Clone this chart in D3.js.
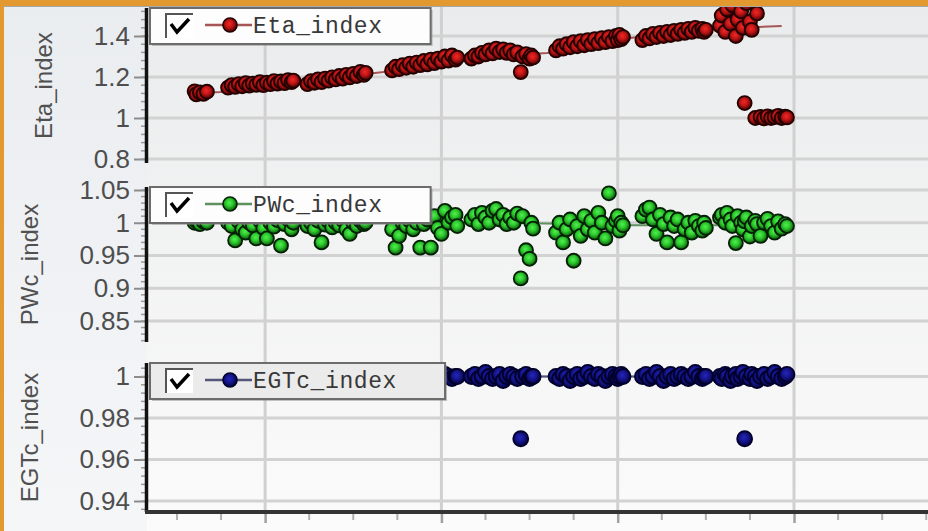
<!DOCTYPE html>
<html>
<head>
<meta charset="utf-8">
<script src="https://cdn.jsdelivr.net/npm/d3@7"></script>
<style>
  html, body { margin: 0; padding: 0; background: #eef0f2; }
  svg { display: block; }
</style>
</head>
<body>
<div id="chart"></div>
<script>
// sample positions, shared by the three panels (one row per cluster)
const cycle = [
  60, 61, 63, 65, 67,
  79, 81, 83, 85, 87, 89, 91, 93, 95, 97, 99, 101, 103, 105, 107, 109, 111, 113, 115, 116,
  124, 126, 128, 130, 132, 134, 136, 138, 140, 142, 144, 146, 148, 150, 152, 154, 156, 157,
  172, 174, 176, 178, 180, 182, 184, 186, 188, 190, 192, 194, 196, 198, 200, 202, 204, 206, 208, 209,
  217, 219, 221, 223, 225, 227, 229, 231, 233, 235, 237, 239, 241, 243, 245, 246, 248, 250, 251, 252,
  265, 267, 269, 271, 273, 275, 277, 279, 281, 283, 285, 287, 289, 291, 293, 295, 297, 299, 300, 301, 302, 303,
  314, 316, 318, 320, 322, 324, 326, 328, 330, 332, 334, 336, 338, 340, 342, 344, 346, 348, 349, 350,
  358, 359, 361, 362, 364, 365, 367, 368, 370, 371, 372, 373, 375, 376, 378, 379, 381, 383, 385, 387, 389, 391, 393, 395, 396
];
const etaIndex = [
  1.13, 1.115, 1.125, 1.118, 1.128,
  1.148, 1.160, 1.152, 1.165, 1.155, 1.170, 1.158, 1.168, 1.162, 1.175, 1.160, 1.172, 1.165, 1.180, 1.168, 1.178, 1.170, 1.185, 1.175, 1.182,
  1.165, 1.18, 1.172, 1.188, 1.175, 1.192, 1.182, 1.198, 1.188, 1.205, 1.192, 1.21, 1.198, 1.215, 1.205, 1.225, 1.21, 1.22,
  1.232, 1.25, 1.238, 1.258, 1.245, 1.265, 1.25, 1.27, 1.258, 1.278, 1.262, 1.285, 1.268, 1.29, 1.275, 1.3, 1.28, 1.305, 1.285, 1.295,
  1.29, 1.305, 1.3, 1.318, 1.31, 1.33, 1.315, 1.338, 1.322, 1.335, 1.318, 1.33, 1.31, 1.32, 1.224, 1.3, 1.312, 1.29, 1.305, 1.295,
  1.33, 1.35, 1.338, 1.36, 1.345, 1.37, 1.35, 1.375, 1.355, 1.38, 1.36, 1.385, 1.365, 1.39, 1.37, 1.395, 1.375, 1.40, 1.38, 1.405, 1.385, 1.395,
  1.38, 1.40, 1.388, 1.41, 1.395, 1.415, 1.40, 1.42, 1.405, 1.425, 1.41, 1.43, 1.415, 1.435, 1.42, 1.44, 1.425, 1.435, 1.42, 1.43,
  1.45, 1.50, 1.42, 1.53, 1.46, 1.55, 1.40, 1.48, 1.52, 1.44, 1.073, 1.56, 1.47, 1.43, 1.0, 1.51, 1.005, 0.998, 1.008, 1.0, 1.004, 1.01, 1.0, 1.006, 1.003
];
const pwcIndex = [
  1.0, 1.003, 0.998, 1.002, 1.0,
  1.0, 0.995, 0.973, 1.002, 0.99, 0.985, 1.0, 0.996, 0.976, 1.003, 0.992, 0.976, 1.0, 0.994, 1.004, 0.965, 0.998, 1.005, 0.99, 1.0,
  0.995, 1.0, 0.99, 1.003, 0.97, 0.997, 1.002, 0.993, 1.0, 0.996, 1.004, 0.99, 0.983, 1.0, 0.995, 1.003, 0.998, 1.0,
  0.99, 0.962, 0.98, 1.0, 0.995, 1.003, 0.99, 1.0, 0.962, 0.998, 1.005, 0.962, 1.01, 0.992, 0.983, 1.018, 1.0, 1.008, 1.012, 0.995,
  1.005, 1.012, 0.998, 1.015, 1.008, 1.0, 1.018, 1.021, 1.005, 1.012, 0.998, 1.008, 1.0, 1.014, 0.915, 1.01, 0.958, 0.945, 1.0, 0.991,
  0.985, 1.0, 0.97, 0.99, 1.005, 0.942, 0.995, 0.98, 1.01, 0.99, 1.003, 0.985, 1.015, 1.0, 0.976, 1.045, 0.995, 1.003, 1.01, 0.988, 1.0, 0.996,
  1.01, 1.02, 1.023, 1.005, 0.983, 1.012, 0.998, 0.97, 1.008, 0.995, 1.005, 0.97, 0.99, 1.0, 0.985, 1.003, 0.995, 0.988, 1.0, 0.992,
  1.008, 1.012, 1.0, 1.015, 1.005, 0.995, 0.969, 1.01, 1.0, 0.99, 1.002, 1.008, 0.979, 0.995, 1.003, 0.998, 0.98, 1.0, 1.006, 0.995, 0.985, 1.002, 0.991, 0.998, 0.995
];
const egtcIndex = [
  1, 1, 1, 1, 1,
  1, 1.001, 1, 0.999, 1, 1, 1.001, 1, 0.999, 1, 1, 1.001, 1, 1, 0.999, 1, 1.001, 1, 1, 1,
  1, 0.999, 1, 1.001, 1, 1, 0.999, 1, 1.001, 1, 1, 0.999, 1, 1.001, 1, 1, 0.999, 1,
  1, 1.001, 1, 0.999, 1, 1.001, 1, 1, 0.998, 1, 1.001, 1, 0.999, 1, 1, 1.001, 1, 0.999, 1, 1,
  1, 1.001, 0.999, 1, 1.002, 1, 0.999, 1, 1.001, 0.998, 1, 1.001, 1, 0.999, 0.97, 1, 1.001, 0.999, 1, 1,
  1, 0.999, 1.001, 1, 0.998, 1, 1.001, 0.999, 1, 1.002, 1, 0.999, 1.001, 1, 0.998, 1, 1.001, 1, 0.999, 1, 1.001, 1,
  1, 1.001, 0.999, 1, 1.002, 1, 0.998, 1, 1.001, 0.999, 1, 1.001, 1, 0.999, 1, 1.002, 1, 0.999, 1, 1,
  1, 0.999, 1.001, 1, 0.998, 1, 1.001, 0.999, 1, 1.002, 0.97, 1, 0.999, 1.001, 1, 0.998, 1, 1.001, 0.999, 1, 1.002, 1, 0.999, 1, 1.001
];

// smoothed trend drawn through each panel
const trendCycle = [63, 75, 121, 167, 213, 260, 307, 353, 393];
const etaTrend = [1.122, 1.127, 1.176, 1.224, 1.293, 1.317, 1.39, 1.434, 1.449];
const pwcTrend = [1.0, 1.0, 1.0, 1.0, 1.0, 0.999, 0.996, 0.996, 0.996];
const egtcTrend = [1, 1, 1, 1, 1, 1, 1, 1, 1];

const etaTicks = [0.8, 1, 1.2, 1.4];
const pwcTicks = [0.85, 0.9, 0.95, 1, 1.05];
const egtcTicks = [0.94, 0.96, 0.98, 1];
const xMajorTicks = [100, 200, 300, 400];
const xMinorTicks = [50, 75, 125, 150, 175, 225, 250, 275, 325, 350, 375, 425, 450, 475];

const W = 928, H = 531;
const plotLeft = 147, plotRight = 928, plotTop = 6, xAxisY = 512;

const panels = [
  { id: "eta", name: "Eta_index", values: etaIndex, trend: etaTrend, ticks: etaTicks, minorStep: 0.04,
    domain: [0.8, 1.4], range: [159, 36], axisTop: 8, axisBottom: 163,
    stops: ["#f02828", "#c41616", "#480202"], stroke: "#220000", r: 7, line: "#a55656", legendFill: "#fdfdfd" },
  { id: "pwc", name: "PWc_index", values: pwcIndex, trend: pwcTrend, ticks: pwcTicks, minorStep: 0.01,
    domain: [0.85, 1.05], range: [321, 190], axisTop: 187, axisBottom: 342,
    stops: ["#52ee52", "#2cca2c", "#0c520c"], stroke: "#042004", r: 7, line: "#5f915f", legendFill: "#fdfdfd" },
  { id: "egtc", name: "EGTc_index", values: egtcIndex, trend: egtcTrend, ticks: egtcTicks, minorStep: 0.004,
    domain: [0.94, 1.0], range: [501, 376.5], axisTop: 363, axisBottom: 512,
    stops: ["#2626b8", "#161692", "#04043c"], stroke: "#00002a", r: 7.5, line: "#55557a", legendFill: "#ebebeb" }
];

const svg = d3.select("#chart").append("svg")
  .attr("width", W)
  .attr("height", H);

const defs = svg.append("defs");
const bg = defs.append("linearGradient").attr("id", "bg").attr("x1", 0).attr("x2", 0).attr("y1", 0).attr("y2", 1);
bg.append("stop").attr("offset", "0%").attr("stop-color", "#eaebec");
bg.append("stop").attr("offset", "100%").attr("stop-color", "#fbfbfb");
const side = defs.append("linearGradient").attr("id", "side").attr("x1", 0).attr("x2", 0).attr("y1", 0).attr("y2", 1);
side.append("stop").attr("offset", "0%").attr("stop-color", "#eaedf0");
side.append("stop").attr("offset", "100%").attr("stop-color", "#f5f6f8");

// marker shading: bright centre, dark rim
panels.forEach(p => {
  const rg = defs.append("radialGradient").attr("id", "dot-" + p.id)
    .attr("cx", "45%").attr("cy", "42%").attr("r", "58%");
  rg.append("stop").attr("offset", "0%").attr("stop-color", p.stops[0]);
  rg.append("stop").attr("offset", "45%").attr("stop-color", p.stops[1]);
  rg.append("stop").attr("offset", "100%").attr("stop-color", p.stops[2]);
});

svg.append("rect").attr("width", plotLeft).attr("height", H).attr("fill", "url(#side)");
svg.append("rect").attr("x", plotLeft).attr("width", W - plotLeft).attr("height", H).attr("fill", "url(#bg)");

const x = d3.scaleLinear().domain([33, 476]).range([plotLeft, plotRight]);

// vertical grid, full height
svg.append("g").selectAll("line")
  .data(xMajorTicks)
  .enter()
  .append("line")
  .attr("x1", d => x(d)).attr("x2", d => x(d))
  .attr("y1", plotTop).attr("y2", xAxisY)
  .attr("stroke", "#d0d0d0")
  .attr("stroke-width", 3);

panels.forEach(p => {
  p.y = d3.scaleLinear().domain(p.domain).range(p.range);

  // horizontal grid
  svg.append("g").selectAll("line")
    .data(p.ticks)
    .enter()
    .append("line")
    .attr("x1", plotLeft).attr("x2", plotRight)
    .attr("y1", d => p.y(d)).attr("y2", d => p.y(d))
    .attr("stroke", "#d2d2d2")
    .attr("stroke-width", 3);
});

panels.forEach(p => {
  if (p.values.length !== cycle.length) console.error(p.name, p.values.length, cycle.length);

  const line = d3.line()
    .x(d => x(d[0]))
    .y(d => p.y(d[1]));

  svg.append("path")
    .datum(trendCycle.map((c, i) => [c, p.trend[i]]))
    .attr("fill", "none")
    .attr("stroke", p.line)
    .attr("stroke-width", 2)
    .attr("d", line);

  svg.append("g").selectAll("circle")
    .data(cycle.map((c, i) => [c, p.values[i]]))
    .enter()
    .append("circle")
    .attr("cx", d => x(d[0]))
    .attr("cy", d => p.y(d[1]))
    .attr("r", p.r)
    .attr("fill", `url(#dot-${p.id})`)
    .attr("stroke", p.stroke)
    .attr("stroke-width", 1.8);
});

// y axes
panels.forEach(p => {
  const g = svg.append("g")
    .attr("transform", `translate(${plotLeft - 1},0)`)
    .call(d3.axisLeft(p.y).tickValues(p.ticks).tickSize(12).tickPadding(4).tickFormat(d3.format("")));
  g.select(".domain").remove();
  g.selectAll(".tick line").attr("stroke", "#8c8c8c").attr("stroke-width", 2);
  g.selectAll(".tick text")
    .attr("fill", "#4e4e4e")
    .style("font-family", "'Liberation Sans', Arial, sans-serif")
    .style("font-size", "26px");

  const lo = p.y.invert(p.axisBottom), hi = p.y.invert(p.axisTop);
  const minor = d3.range(Math.ceil(lo / p.minorStep - 1e-6), Math.floor(hi / p.minorStep + 1e-6) + 1)
    .map(k => k * p.minorStep);
  svg.append("g").selectAll("line")
    .data(minor)
    .enter()
    .append("line")
    .attr("x1", plotLeft - 6).attr("x2", plotLeft - 1)
    .attr("y1", d => p.y(d)).attr("y2", d => p.y(d))
    .attr("stroke", "#9a9a9a")
    .attr("stroke-width", 1.5);

  svg.append("line")
    .attr("x1", plotLeft - 0.5).attr("x2", plotLeft - 0.5)
    .attr("y1", p.axisTop).attr("y2", p.axisBottom)
    .attr("stroke", "#111")
    .attr("stroke-width", 3.5);

  let maxW = 0;
  g.selectAll(".tick text").each(function () { maxW = Math.max(maxW, this.getBBox().width); });
  const tx = plotLeft - 17 - maxW - 50;
  const ty = (p.axisTop + p.axisBottom) / 2;
  svg.append("text")
    .attr("transform", `translate(${tx},${ty}) rotate(-90)`)
    .attr("text-anchor", "middle")
    .attr("dy", "0.35em")
    .attr("fill", "#505050")
    .style("font-family", "'Liberation Sans', Arial, sans-serif")
    .style("font-size", "24px")
    .text(p.name);
});

// x axis, labels cut off below the picture
const xg = svg.append("g")
  .attr("transform", `translate(0,${xAxisY})`)
  .call(d3.axisBottom(x).tickValues(xMajorTicks).tickSize(11).tickFormat(""));
xg.select(".domain").remove();
xg.selectAll(".tick line").attr("stroke", "#a0a0a0").attr("stroke-width", 2.5);
svg.append("g").selectAll("line")
  .data(xMinorTicks)
  .enter()
  .append("line")
  .attr("x1", d => x(d)).attr("x2", d => x(d))
  .attr("y1", xAxisY).attr("y2", xAxisY + 8)
  .attr("stroke", "#b0b0b0")
  .attr("stroke-width", 2);
svg.append("line")
  .attr("x1", plotLeft - 2).attr("x2", plotRight)
  .attr("y1", xAxisY).attr("y2", xAxisY)
  .attr("stroke", "#333")
  .attr("stroke-width", 4);

// legends
panels.forEach(p => {
  const lg = svg.append("g").attr("transform", `translate(150,${p.axisTop})`);
  const shadow = lg.append("rect").attr("x", 2).attr("y", 2).attr("height", 36)
    .attr("fill", "#8a8a8a").attr("opacity", 0.5);
  const box = lg.append("rect").attr("height", 36)
    .attr("fill", p.legendFill).attr("stroke", "#6c6c6c").attr("stroke-width", 2);

  lg.append("rect").attr("x", 15).attr("y", 5).attr("width", 28).attr("height", 25).attr("fill", "#ffffff");
  lg.append("path").attr("d", "M16,30V6H43").attr("fill", "none").attr("stroke", "#555").attr("stroke-width", 2);
  lg.append("path").attr("d", "M21,16L27,24L39,11").attr("fill", "none").attr("stroke", "#000").attr("stroke-width", 3.5);

  lg.append("line").attr("x1", 55).attr("x2", 102).attr("y1", 17).attr("y2", 17)
    .attr("stroke", p.line).attr("stroke-width", 2.5);
  lg.append("circle").attr("cx", 80).attr("cy", 17).attr("r", 7)
    .attr("fill", `url(#dot-${p.id})`).attr("stroke", p.stroke).attr("stroke-width", 1.6);

  const t = lg.append("text")
    .attr("x", 103).attr("y", 25)
    .attr("fill", "#383838")
    .style("font-family", "'Courier New', 'Liberation Mono', monospace")
    .style("font-size", "23px")
    .style("letter-spacing", "0.6px")
    .text(p.name);
  const w = 103 + t.node().getComputedTextLength() + 48;
  box.attr("width", w);
  shadow.attr("width", w);
});

// orange frame of the screenshot
svg.append("rect").attr("width", W).attr("height", 6).attr("fill", "#e29a30");
svg.append("line").attr("x1", 4).attr("x2", W).attr("y1", 6.5).attr("y2", 6.5)
  .attr("stroke", "#a8a8a8").attr("stroke-width", 1);
svg.append("rect").attr("width", 4).attr("height", H).attr("fill", "#e29a30");
</script>
</body>
</html>
